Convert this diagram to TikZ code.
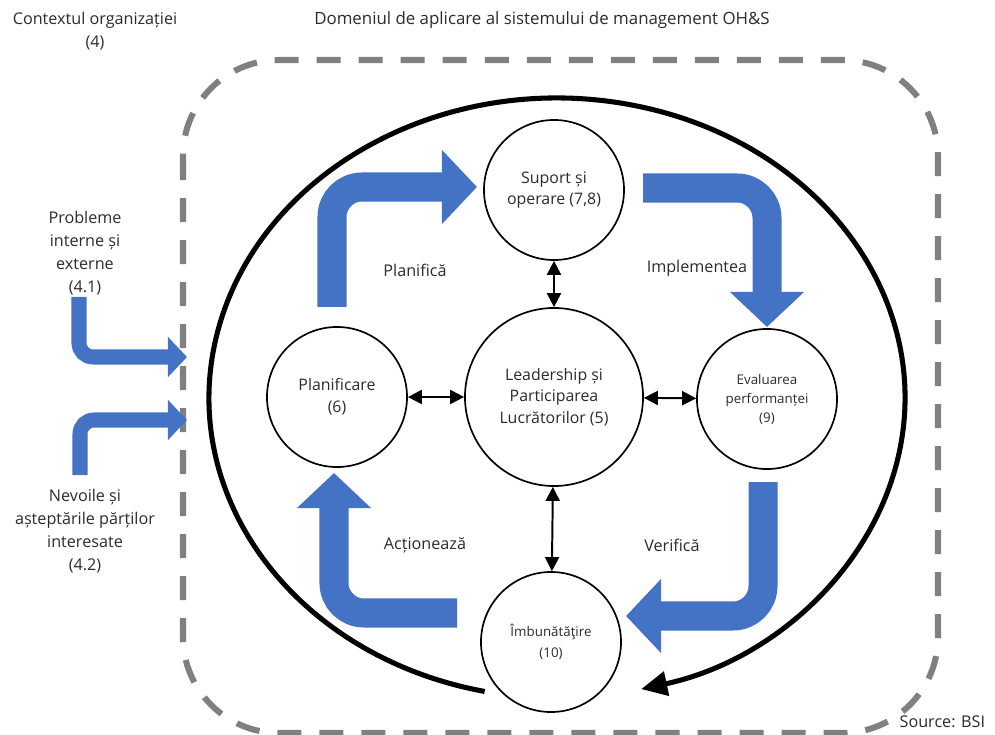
\documentclass[tikz,border=0pt]{standalone}
\usepackage{fontspec}
\setmainfont{Open Sans}
\usetikzlibrary{arrows.meta}
\definecolor{ohsblue}{HTML}{4472C4}
\definecolor{scopegray}{HTML}{808080}
\definecolor{txt}{HTML}{2B2B2B}
\tikzset{clause/.style={circle, draw=black, line width=1.2pt, minimum size=3.5cm,
inner sep=0pt, align=center, text=txt, font=\fontsize{11.3}{15.4}\selectfont},
link/.style={{Triangle[length=10pt,width=10pt]}-{Triangle[length=10pt,width=10pt]}, line width=1.4pt},
pdca/.style={draw=ohsblue, line width=0.725cm, rounded corners=0.75cm,
-{Triangle[length=0.875cm,width=1.8cm]}},
feed/.style={draw=ohsblue, line width=0.375cm, rounded corners=0.35cm,
-{Triangle[length=0.475cm,width=0.975cm]}},
lbl/.style={text=txt, align=center, font=\fontsize{11.5}{16.4}\selectfont}}

\begin{document}
\begin{tikzpicture}[x=0.025cm, y=-0.025cm]
	\useasboundingbox (0,0) rectangle (995,735);
	\draw[scopegray, line width=4.3pt, dash pattern=on 0.6cm off 0.45cm, rounded corners=2.4cm] (183,60) rectangle (938,733);
	\draw[line width=3.6pt, -{Triangle[length=0.65cm,width=0.6cm]}] (557,398) ++(102:348 and 300) arc[start angle=102, end angle=436, x radius=348, y radius=300];
	\node[clause] (suport) at (554,190) {Suport și\\operare (7,8)};
	\node[clause, minimum size=4.45cm] (leader) at (554,397) {Leadership și\\Participarea\\Lucrătorilor (5)};
	\node[clause] (planif) at (337,397) {Planificare\\(6)};
	\node[clause, font=\fontsize{9.5}{13.5}\selectfont] (eval) at (767,399) {Evaluarea\\performanței\\(9)};
	\node[clause, font=\fontsize{9.5}{14.5}\selectfont] (imbun) at (551,642) {Îmbunătăţire\\(10)};
	\draw[link] (suport) -- (leader);
	\draw[link] (planif) -- (leader);
	\draw[link] (leader) -- (eval);
	\draw[link] (leader) -- (imbun);
	\draw[pdca] (332,307) -- (332,187) -- (477,187);
	\draw[pdca] (643,188) -- (767,188) -- (767,327);
	\draw[pdca] (763,482) -- (763,616) -- (626,616);
	\draw[pdca] (457,613) -- (334,613) -- (334,473);
	\draw[feed] (79,297) -- (79,357) -- (187,357);
	\draw[feed] (80,475) -- (80,420) -- (187,420);
	\node[lbl] (ctx) at (95,31) {Contextul organizației\\(4)};
	\node[lbl, font=\fontsize{12}{16.4}\selectfont] (domeniu) at (542,20) {Domeniul de aplicare al sistemului de management OH\&S};
	\node[lbl] (probleme) at (85,253) {Probleme\\interne și\\externe\\(4.1)};
	\node[lbl] (nevoi) at (85,531) {Nevoile și\\așteptările părților\\interesate\\(4.2)};
	\node[lbl] (planifica) at (415,270) {Planifică};
	\node[lbl] (implem) at (697,268) {Implementea};
	\node[lbl] (actioneaza) at (425,545) {Acționează};
	\node[lbl] (verifica) at (672,545) {Verifică};
	\node[lbl, anchor=east] (sursa) at (990,722) {Source: BSI};
\end{tikzpicture}
\end{document}
